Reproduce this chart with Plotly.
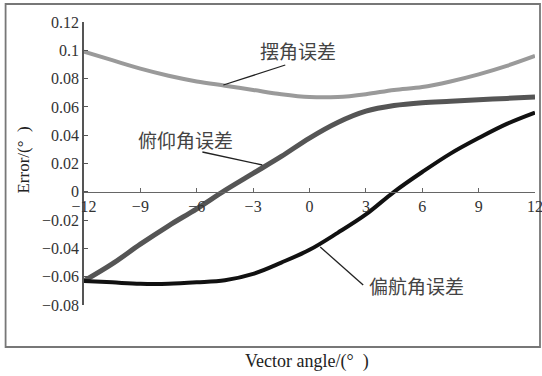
import plotly.graph_objects as go

# ---- data ----
angle = [-12, -10.5, -9, -7.5, -6, -4.5, -3, -1.5, 0, 1.5, 3, 4.5, 6, 7.5, 9, 10.5, 12]
pendulum_err = [0.099, 0.093, 0.087, 0.082, 0.078, 0.075, 0.072, 0.069, 0.067,
                0.067, 0.069, 0.072, 0.074, 0.078, 0.083, 0.089, 0.096]
pitch_err = [-0.063, -0.051, -0.037, -0.024, -0.012, 0.001, 0.013, 0.025, 0.038,
             0.049, 0.057, 0.061, 0.063, 0.064, 0.065, 0.066, 0.067]
yaw_err = [-0.063, -0.064, -0.065, -0.065, -0.064, -0.0625, -0.058, -0.050, -0.041,
           -0.029, -0.016, 0.000, 0.014, 0.027, 0.038, 0.048, 0.056]
series_names = ["摆角误差", "俯仰角误差", "偏航角误差"]
x_ticks = [-12, -9, -6, -3, 0, 3, 6, 9, 12]
y_ticks = [-0.08, -0.06, -0.04, -0.02, 0, 0.02, 0.04, 0.06, 0.08, 0.1, 0.12]
x_title = "Vector angle/(°\u2002)"
y_title = "Error/(°\u2002)"

# ---- layout geometry ----
W, H = 542, 376
L, R, T, B = 83.5, 535, 22, 305
XR = (-12, 12)
YR = (-0.08, 0.12)


def px2paper(px, py):
    return (px - L) / (R - L), (B - py) / (B - T)


serif = "Liberation Serif, Times New Roman, serif"
cjk = "Noto Sans CJK SC, sans-serif"

fig = go.Figure()
fig.add_trace(go.Scatter(x=angle, y=pendulum_err, mode="lines", name=series_names[0],
                         line=dict(color="#9a9a9a", width=4, shape="spline")))
fig.add_trace(go.Scatter(x=angle, y=pitch_err, mode="lines", name=series_names[1],
                         line=dict(color="#555555", width=5, shape="spline")))
fig.add_trace(go.Scatter(x=angle, y=yaw_err, mode="lines", name=series_names[2],
                         line=dict(color="#111111", width=4, shape="spline")))

zero_pos = (0 - YR[0]) / (YR[1] - YR[0])

fig.update_layout(
    width=W, height=H,
    margin=dict(l=L, r=W - R, t=T, b=H - B, autoexpand=False),
    paper_bgcolor="white", plot_bgcolor="white",
    showlegend=False,
    font=dict(family=serif, size=16, color="#333333"),
    xaxis=dict(range=list(XR), tickvals=x_ticks, ticks="inside", ticklen=4,
               tickcolor="#666666", showline=True, linecolor="#666666", linewidth=1.2,
               showgrid=False, zeroline=False, anchor="free", position=zero_pos,
               ticklabeloverflow="allow", automargin=False,
               tickfont=dict(family=serif, size=16, color="#333333")),
    yaxis=dict(range=list(YR), tickvals=y_ticks, ticks="inside", ticklen=4,
               tickcolor="#555555", showline=True, linecolor="#555555", linewidth=1.5,
               showgrid=False, zeroline=False, ticklabeloverflow="allow", automargin=False,
               tickfont=dict(family=serif, size=16, color="#333333")),
)

# outer frame
x0, y0 = px2paper(5, 347)
x1, y1 = px2paper(540, 4)
fig.add_shape(type="rect", xref="paper", yref="paper", x0=x0, y0=y0, x1=x1, y1=y1,
              line=dict(color="#777777", width=1.8), layer="below")

# leader lines
leaders = [((223, 85), (285, 65)), ((202, 152), (262, 165)), ((320, 247), (363, 285))]
for (ax_, ay_), (bx_, by_) in leaders:
    p0 = px2paper(ax_, ay_)
    p1 = px2paper(bx_, by_)
    fig.add_shape(type="line", xref="paper", yref="paper", x0=p0[0], y0=p0[1],
                  x1=p1[0], y1=p1[1], line=dict(color="#222222", width=1.3))

# series labels
label_pos = [(298, 51), (185, 139), (416, 285)]
for name, (lx, ly) in zip(series_names, label_pos):
    px_, py_ = px2paper(lx, ly)
    fig.add_annotation(x=px_, y=py_, xref="paper", yref="paper", text=name,
                       showarrow=False, xanchor="center", yanchor="middle",
                       font=dict(family=cjk, size=19, color="#444444"))

# axis titles
tx, ty = px2paper(307, 361)
fig.add_annotation(x=tx, y=ty, xref="paper", yref="paper", text=x_title, showarrow=False,
                   xanchor="center", yanchor="middle",
                   font=dict(family=serif, size=18, color="#222222"))
tx, ty = px2paper(22, 160)
fig.add_annotation(x=tx, y=ty, xref="paper", yref="paper", text=y_title, showarrow=False,
                   xanchor="center", yanchor="middle", textangle=-90,
                   font=dict(family=serif, size=17, color="#222222"))

fig.write_html("out.html", config={"displayModeBar": False},
               post_script="document.body.style.margin='0';"
                           "document.body.style.padding='0';"
                           "document.documentElement.style.overflow='hidden';")
